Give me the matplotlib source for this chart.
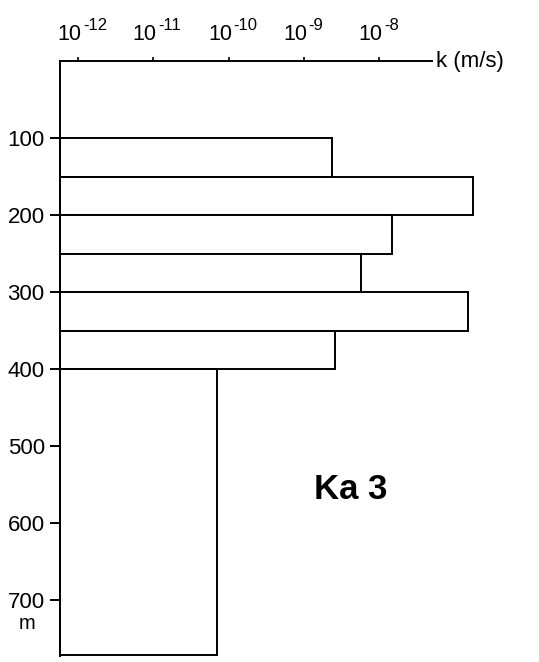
import matplotlib
matplotlib.use("Agg")
import matplotlib.pyplot as plt
import numpy as np

plt.rcParams['font.family'] = ['Liberation Sans', 'DejaVu Sans']

# Data: depth intervals (m) and hydraulic conductivity k (m/s)
depth_top = [100, 150, 200, 250, 300, 350, 400]
depth_bottom = [150, 200, 250, 300, 350, 400, 772]
k_values = [2.4e-9, 1.8e-7, 1.5e-8, 5.8e-9, 1.5e-7, 2.6e-9, 7.0e-11]
x_tick_exps = [-12, -11, -10, -9, -8]
y_ticks = [100, 200, 300, 400, 500, 600, 700]

xmin, xmax = 10**-12.24, 10**-7.296
ymin, ymax = 0, 772.8

fig = plt.figure(figsize=(5.39, 6.62), dpi=100)
ax = fig.add_axes([60/539, 1-656/662, (432-60)/539, (656-61.3)/662])
ax.set_xscale('log')
ax.set_xlim(xmin, xmax)
ax.set_ylim(ymax, ymin)

heights = np.array(depth_bottom) - np.array(depth_top)
ax.barh(depth_top, np.array(k_values) - xmin, left=xmin, height=heights,
        align='edge', facecolor='white', edgecolor='black', linewidth=1.4,
        clip_on=False)

for s in ['right', 'bottom']:
    ax.spines[s].set_visible(False)
for s in ['left', 'top']:
    ax.spines[s].set_linewidth(1.4)

ax.xaxis.tick_top()
ax.set_xticks([10.0**e for e in x_tick_exps])
ax.set_xticklabels([])
ax.xaxis.set_minor_locator(matplotlib.ticker.NullLocator())
ax.tick_params(axis='x', which='major', direction='out', length=3, width=1.2)

# tick labels drawn as base + raised exponent
for e in x_tick_exps:
    xv = 10.0**e
    ax.annotate('10', xy=(xv, 1), xycoords=('data', 'axes fraction'),
                xytext=(2.5, 15), textcoords='offset points',
                ha='right', va='baseline', fontsize=15.5)
    ax.annotate('-%d' % (-e), xy=(xv, 1), xycoords=('data', 'axes fraction'),
                xytext=(3.5, 22.5), textcoords='offset points',
                ha='left', va='baseline', fontsize=12)

ax.set_yticks(y_ticks)
ax.set_yticklabels([str(v) for v in y_ticks], fontsize=16)
ax.tick_params(axis='y', direction='out', length=7, width=1.4, pad=4)

ax.annotate('k (m/s)', xy=(1, 1), xycoords='axes fraction', xytext=(3, 0),
            textcoords='offset points', ha='left', va='center', fontsize=16)
ax.annotate('m', xy=(0, 731), xycoords=('axes fraction', 'data'), xytext=(-24, 0),
            textcoords='offset points', ha='center', va='center', fontsize=14.5)
ax.text(10**-8.86, 556, 'Ka 3', fontsize=25, fontweight='bold', ha='left', va='center')

fig.savefig('out.png', dpi=100)
